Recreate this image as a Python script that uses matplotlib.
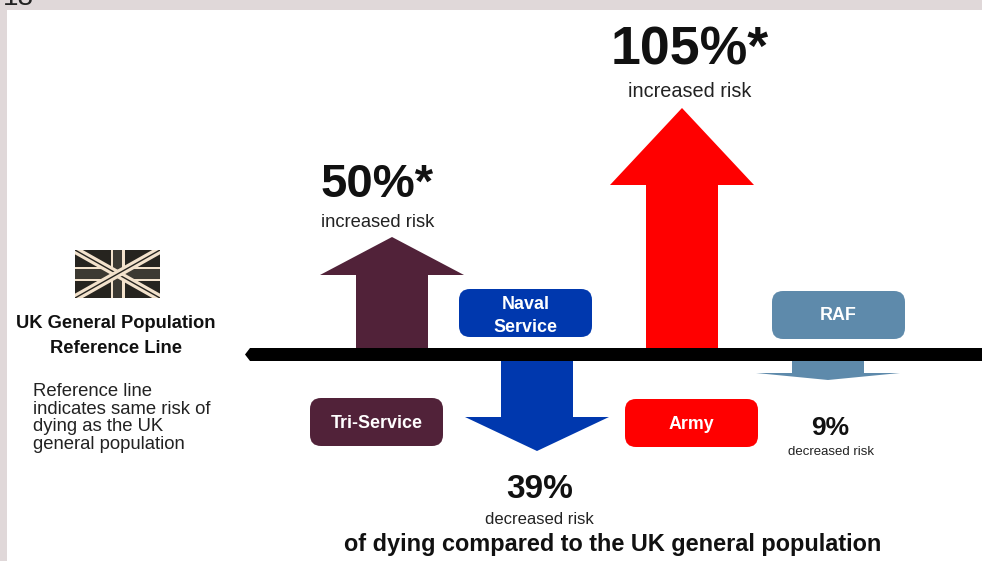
#!/usr/bin/python3

import matplotlib
matplotlib.use("Agg")
from matplotlib import pyplot as plt
from matplotlib.patches import FancyBboxPatch, Polygon, Rectangle

plt.rcParams["font.family"] = ["Liberation Sans", "DejaVu Sans"]

# services, left to right
services = ["Tri-Service", "Naval\nService", "Army", "RAF"]
risk_labels = ["50%*", "39%", "105%*", "9%"]
risk_notes = ["increased risk", "decreased risk", "increased risk", "decreased risk"]
# arrow length, up is positive
arrow_len = [111, -90, 240, -19]
head_len = [38, 34, 77, 7]
colors = ["#512239", "#0038AE", "#FF0000", "#5E8AAB"]

fig = plt.figure(figsize=(9.82, 5.61), dpi=100, facecolor="white")
ax = fig.add_axes([0, 0, 1, 1])
ax.set_xlim(0, 982)
ax.set_ylim(561, 0)
ax.axis("off")

# slide edge
strip = "#E0D8D9"
ax.add_patch(Rectangle((0, 0), 982, 10, fc=strip, ec="none"))
ax.add_patch(Rectangle((0, 0), 7, 561, fc=strip, ec="none"))
ax.text(3, 4.5, "18", fontsize=20, ha="left", va="baseline", color="#222222")

centers = [392, 537, 682, 828]
label_x = [377, 539.5, 690, 830.5]
note_x = [378, 539.5, 689.5, 831]
label_fs = [34, 24, 38.6, 19]
note_fs = [13.2, 12, 14.3, 9.5]
pct_y = [185, 489, 50, 428]
note_y = [222, 519, 91, 452]
box_x = [376.5, 525.5, 691.5, 838.5]
box_y = [422, 313, 423, 315]
text_y = [423, 316, 424, 315]

for i, s in enumerate(services):
    cx = centers[i]
    base = 348 if arrow_len[i] > 0 else 361
    tip = base - arrow_len[i]
    sign = 1 if arrow_len[i] > 0 else -1
    neck = tip + sign * head_len[i]
    pts = [(cx - 36, base), (cx - 36, neck), (cx - 72, neck), (cx, tip),
           (cx + 72, neck), (cx + 36, neck), (cx + 36, base)]
    ax.add_patch(Polygon(pts, closed=True, fc=colors[i], ec="none", zorder=2))

    # rounded name box
    ax.add_patch(FancyBboxPatch((box_x[i] - 66.5, box_y[i] - 24), 133, 48,
                                boxstyle="round,pad=0,rounding_size=11",
                                fc=colors[i], ec="none", zorder=2))
    ax.text(box_x[i], text_y[i], s, color="white", fontsize=12.9, fontweight="bold",
            ha="center", va="center", linespacing=1.42, zorder=3)

    ax.text(label_x[i], pct_y[i], risk_labels[i], fontsize=label_fs[i], fontweight="bold",
            ha="center", va="center", color="#111111")
    ax.text(note_x[i], note_y[i], risk_notes[i], fontsize=note_fs[i], ha="center",
            va="center", color="#222222")

# reference line with pointed left end
ax.add_patch(Polygon([(245, 354.5), (250, 348), (982, 348), (982, 361), (250, 361)],
                     closed=True, fc="black", ec="none", zorder=4))

# small union flag
fx0, fx1, fy0, fy1 = 75, 160, 250, 298
cream = "#F3E2CC"
flag = Rectangle((fx0, fy0), fx1 - fx0, fy1 - fy0, fc="#26241F", ec="none")
ax.add_patch(flag)
for (a, b) in [((fx0, fy0), (fx1, fy1)), ((fx0, fy1), (fx1, fy0))]:
    ln, = ax.plot([a[0], b[0]], [a[1], b[1]], color=cream, lw=5.5, solid_capstyle="butt")
    ln.set_clip_path(flag)
    ln, = ax.plot([a[0], b[0]], [a[1], b[1]], color="#26241F", lw=1, solid_capstyle="butt")
    ln.set_clip_path(flag)
ax.add_patch(Rectangle((fx0, 267), fx1 - fx0, 14, fc=cream, ec="none"))
ax.add_patch(Rectangle((111, fy0), 14, fy1 - fy0, fc=cream, ec="none"))
ax.add_patch(Rectangle((fx0, 269), fx1 - fx0, 10, fc="#3C3932", ec="none"))
ax.add_patch(Rectangle((113.5, fy0), 9, fy1 - fy0, fc="#3C3932", ec="none"))

ax.text(116, 336, "UK General Population\nReference Line", fontsize=13.2, fontweight="bold",
        ha="center", va="center", linespacing=1.55, color="#111111")
ax.text(33, 418, "Reference line\nindicates same risk of\ndying as the UK\ngeneral population",
        fontsize=13.3, ha="left", va="center", linespacing=1.06, color="#222222")
ax.text(613, 544, "of dying compared to the UK general population", fontsize=16.9,
        fontweight="bold", ha="center", va="center", color="#111111")

fig.savefig("out.png", dpi=100)
